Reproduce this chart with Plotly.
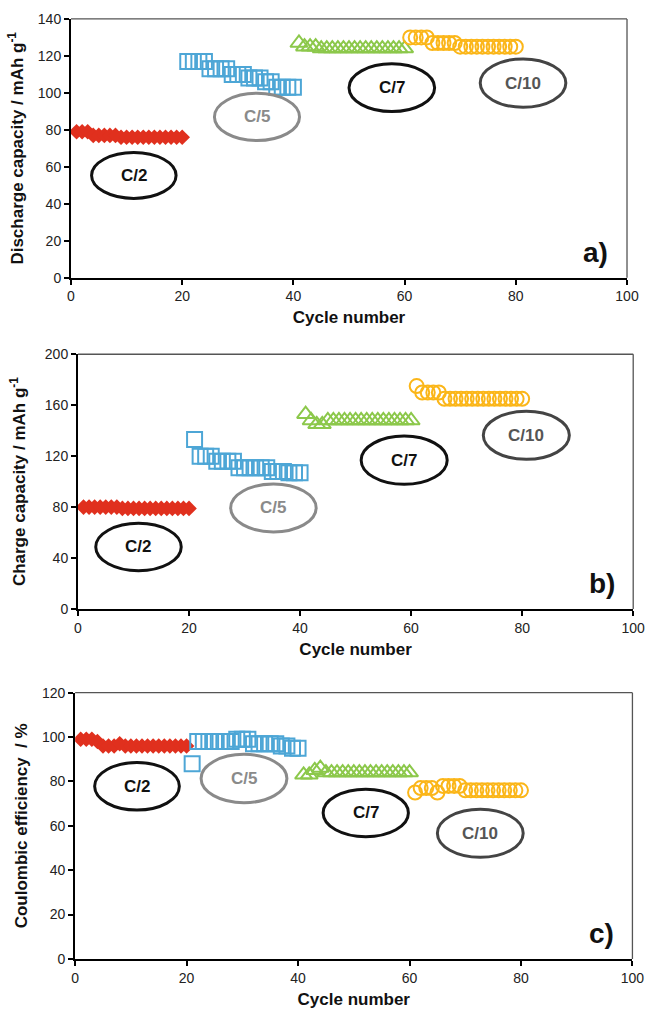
import plotly.graph_objects as go

W, H = 646, 1009

cyc_c2 = list(range(1, 21))
cyc_c5 = list(range(21, 41))
cyc_c7 = list(range(41, 61))
cyc_c10 = list(range(61, 81))

# a) discharge capacity
dis_c2 = [79, 79, 79, 77, 77, 77, 77, 77, 76, 76, 76, 76, 76, 76, 76, 76, 76, 76, 76, 76]
dis_c5 = [117, 117, 117, 117, 113, 113, 113, 113, 110, 110, 110, 108, 108, 108, 106, 106, 103, 103, 103, 103]
dis_c7 = [127, 125, 125, 125, 124, 124, 124, 124, 124, 124, 124, 124, 124, 124, 124, 124, 124, 124, 124, 124]
dis_c10 = [130, 130, 130, 130, 127, 127, 127, 127, 127, 125, 125, 125, 125, 125, 125, 125, 125, 125, 125, 125]

# b) charge capacity
ch_c2 = [80, 80, 80, 80, 80, 80, 80, 79, 79, 79, 79, 79, 79, 79, 79, 79, 79, 79, 79, 79]
ch_c5 = [133, 120, 120, 120, 116, 116, 116, 116, 111, 111, 111, 111, 111, 111, 108, 108, 108, 107, 107, 107]
ch_c7 = [153, 148, 145, 145, 148, 148, 148, 148, 148, 148, 148, 148, 148, 148, 148, 148, 148, 148, 148, 148]
ch_c10 = [175, 170, 170, 170, 170, 165, 165, 165, 165, 165, 165, 165, 165, 165, 165, 165, 165, 165, 165, 165]

# c) coulombic efficiency
ce_c2 = [99, 99, 99, 98, 96, 96, 96, 97, 96, 96, 96, 96, 96, 96, 96, 96, 96, 96, 96, 96]
ce_c5 = [88, 98, 98, 98, 98, 98, 98, 98, 99, 99, 99, 97, 97, 97, 97, 97, 96, 96, 95, 95]
ce_c7 = [83, 83, 85, 86, 84, 84, 84, 84, 84, 84, 84, 84, 84, 84, 84, 84, 84, 84, 84, 84]
ce_c10 = [75, 77, 77, 77, 75, 78, 78, 78, 78, 76, 76, 76, 76, 76, 76, 76, 76, 76, 76, 76]

rate_labels = ["C/2", "C/5", "C/7", "C/10"]
panel_labels = ["a)", "b)", "c)"]
y_titles = ["Discharge capacity / mAh g<sup>-1</sup>", "Charge capacity / mAh g<sup>-1</sup>",
            "Coulombic efficiency  / %"]
x_title = "Cycle number"

RED, BLUE, GREEN, ORANGE = "#E0301E", "#4DA6D6", "#8CC84B", "#FBB619"

# ellipses (x0, x1, y0, y1) in data units per panel
ell = [
    [(3.7, 18.9, 42.9, 67.7), (25.8, 41.1, 74.2, 99.8), (50.0, 65.4, 89.9, 115.7), (73.6, 89.0, 92.2, 118.4)],
    [(3.2, 18.6, 30.1, 67.3), (27.5, 42.9, 60.5, 98.2), (51.0, 66.5, 97.9, 135.8), (73.0, 88.5, 117.5, 155.2)],
    [(3.5, 18.7, 67.1, 88.5), (22.6, 38.0, 70.4, 92.2), (44.5, 59.8, 55.1, 76.5), (65.0, 80.4, 45.8, 67.5)],
]
ell_line = ["#111111", "#8A8A8A", "#111111", "#444444"]
ell_text = ["#111111", "#8A8A8A", "#111111", "#555555"]

panels = [
    (dict(c2=dis_c2, c5=dis_c5, c7=dis_c7, c10=dis_c10), [0.1099, 0.9706], [0.7248, 0.9812], 140, 20, 10),
    (dict(c2=ch_c2, c5=ch_c5, c7=ch_c7, c10=ch_c10), [0.1207, 0.9802], [0.3964, 0.6489], 200, 40, 15),
    (dict(c2=ce_c2, c5=ce_c5, c7=ce_c7, c10=ce_c10), [0.1163, 0.9790], [0.0496, 0.3135], 120, 20, 10),
]

FONT = "Liberation Sans, Arial"

fig = go.Figure()
layout = dict(width=W, height=H, margin=dict(l=0, r=0, t=0, b=0, autoexpand=False),
              paper_bgcolor="white", plot_bgcolor="white", showlegend=False,
              font=dict(family=FONT, color="#222222"))
shapes, annos = [], []

for i, (d, xd, yd, ymax, dt, ystand) in enumerate(panels):
    sfx = "" if i == 0 else str(i + 1)
    xa, ya = "x" + sfx, "y" + sfx
    fig.add_trace(go.Scatter(x=cyc_c2, y=d["c2"], mode="markers", xaxis=xa, yaxis=ya,
                             marker=dict(symbol="diamond", size=12, color=RED, line=dict(width=0))))
    fig.add_trace(go.Scatter(x=cyc_c5, y=d["c5"], mode="markers", xaxis=xa, yaxis=ya,
                             marker=dict(symbol="square-open", size=15, color=BLUE, line=dict(width=2))))
    fig.add_trace(go.Scatter(x=cyc_c7, y=d["c7"], mode="markers", xaxis=xa, yaxis=ya,
                             marker=dict(symbol="triangle-up-open", size=15, color=GREEN, line=dict(width=2))))
    fig.add_trace(go.Scatter(x=cyc_c10, y=d["c10"], mode="markers", xaxis=xa, yaxis=ya,
                             marker=dict(symbol="circle-open", size=14, color=ORANGE, line=dict(width=2))))
    layout["xaxis" + sfx] = dict(domain=xd, anchor=ya, range=[0, 100], dtick=20, tick0=0, automargin=False,
                                 showline=True, linecolor="black", linewidth=2, ticks="outside",
                                 ticklen=5, tickwidth=1.5, tickcolor="black", showgrid=False, zeroline=False,
                                 tickfont=dict(size=14, color="#222222"),
                                 title=dict(text="<b>" + x_title + "</b>", font=dict(size=17, color="#111111"),
                                            standoff=8))
    layout["yaxis" + sfx] = dict(domain=yd, anchor=xa, range=[0, ymax], dtick=dt, tick0=0, automargin=False,
                                 showline=True, linecolor="black", linewidth=2, ticks="outside",
                                 ticklen=5, tickwidth=1.5, tickcolor="black", showgrid=False, zeroline=False,
                                 tickfont=dict(size=14, color="#222222"),
                                 title=dict(text="<b>" + y_titles[i] + "</b>", font=dict(size=17, color="#111111"),
                                            standoff=ystand))
    # top/right frame in grey
    shapes.append(dict(type="line", xref=xa + " domain", yref=ya + " domain", x0=0, x1=1, y0=1, y1=1,
                       line=dict(color="#555555", width=1.3)))
    shapes.append(dict(type="line", xref=xa + " domain", yref=ya + " domain", x0=1, x1=1, y0=0, y1=1,
                       line=dict(color="#555555", width=1.3)))
    for k, (x0, x1, y0, y1) in enumerate(ell[i]):
        shapes.append(dict(type="circle", xref=xa, yref=ya, x0=x0, x1=x1, y0=y0, y1=y1,
                           line=dict(color=ell_line[k], width=3)))
        annos.append(dict(xref=xa, yref=ya, x=(x0 + x1) / 2, y=(y0 + y1) / 2, text="<b>" + rate_labels[k] + "</b>",
                          showarrow=False, font=dict(size=17, color=ell_text[k], family=FONT)))
    annos.append(dict(xref=xa + " domain", yref=ya + " domain", x=0.97, y=0.03, xanchor="right", yanchor="bottom",
                      text="<b>" + panel_labels[i] + "</b>", showarrow=False,
                      font=dict(size=28, color="#111111", family=FONT)))

layout["shapes"] = shapes
layout["annotations"] = annos
fig.update_layout(**layout)
fig.write_html("out.html")
